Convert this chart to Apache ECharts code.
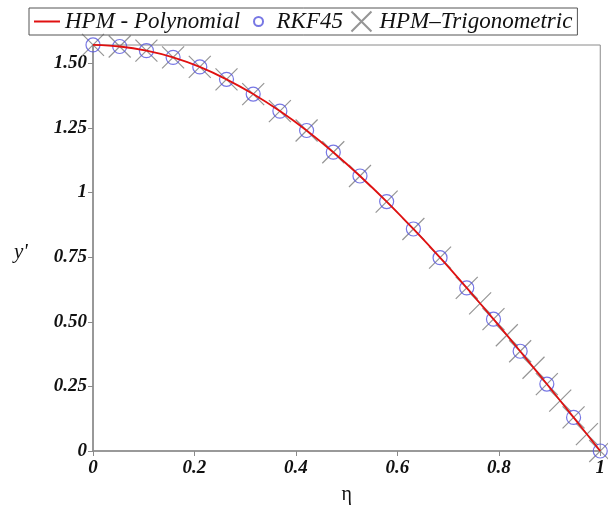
<!DOCTYPE html>
<html>
<head>
<meta charset="utf-8">
<script src="https://cdn.jsdelivr.net/npm/echarts@6/dist/echarts.min.js"></script>
<style>
  html, body { margin: 0; padding: 0; background: #fff; }
  #chart { width: 608px; height: 510px; }
</style>
</head>
<body>
<div id="chart"></div>
<script>
  // eta grid of the RKF45 points (20 points, step 1/19)
  var etaRkf = [0, 0.0526, 0.1053, 0.1579, 0.2105, 0.2632, 0.3158, 0.3684, 0.4211, 0.4737,
                0.5263, 0.5789, 0.6316, 0.6842, 0.7368, 0.7895, 0.8421, 0.8947, 0.9474, 1];
  var yRkf = [1.571, 1.565, 1.549, 1.523, 1.486, 1.438, 1.381, 1.315, 1.240, 1.156,
              1.064, 0.965, 0.859, 0.748, 0.631, 0.510, 0.386, 0.259, 0.130, 0];
  // HPM polynomial curve
  var yPoly = [1.571, 1.565, 1.549, 1.523, 1.486, 1.438, 1.381, 1.315, 1.240, 1.156,
               1.064, 0.965, 0.859, 0.748, 0.631, 0.510, 0.386, 0.259, 0.130, 0];
  // HPM trigonometric crosses (same points plus extra ones near the end)
  var etaTrig = [0, 0.0526, 0.1053, 0.1579, 0.2105, 0.2632, 0.3158, 0.3684, 0.4211, 0.4737,
                 0.5263, 0.5789, 0.6316, 0.6842, 0.7368, 0.7632, 0.7895, 0.8158, 0.8421, 0.8684,
                 0.8947, 0.9211, 0.9474, 0.9737, 1];
  var yTrig = [1.571, 1.565, 1.549, 1.523, 1.486, 1.438, 1.381, 1.315, 1.240, 1.156,
               1.064, 0.965, 0.859, 0.748, 0.631, 0.571, 0.510, 0.448, 0.386, 0.322,
               0.259, 0.195, 0.130, 0.065, 0];
  var yTickText = { '0': '0', '0.25': '0.25', '0.5': '0.50', '0.75': '0.75', '1': '1', '1.25': '1.25', '1.5': '1.50' };

  function pairs(xs, ys) {
    return xs.map(function (x, i) { return [x, ys[i]]; });
  }

  var font = 'Liberation Serif';
  var chart = echarts.init(document.getElementById('chart'));
  chart.setOption({
    animation: false,
    backgroundColor: '#fff',
    legend: {
      top: 8,
      left: 29,
      padding: [1, 5, 1, 4],
      borderColor: '#555',
      borderWidth: 1,
      itemGap: 6,
      itemWidth: 26,
      itemHeight: 20,
      textStyle: { fontFamily: font, fontStyle: 'italic', fontSize: 23, color: '#111', padding: [2, 0, 0, 0] },
      data: [
        { name: 'HPM - Polynomial', itemStyle: { opacity: 0 } },
        { name: 'RKF45', icon: 'path://M0,0M20,20M14.5,10A4.5,4.5,0,1,1,5.5,10A4.5,4.5,0,1,1,14.5,10Z' },
        { name: 'HPM\u2013Trigonometric' }
      ]
    },
    grid: {
      left: 93, right: 6, top: 45, bottom: 58,
      show: true, borderColor: '#8a8a8a', borderWidth: 1
    },
    xAxis: {
      type: 'value', min: 0, max: 1, interval: 0.2,
      name: '\u03b7', nameLocation: 'middle', nameGap: 34,
      nameTextStyle: { fontFamily: font, fontSize: 20, color: '#111' },
      axisLine: { lineStyle: { color: '#8a8a8a', width: 1.5 } },
      axisTick: { show: true, length: 5, lineStyle: { color: '#8a8a8a' } },
      splitLine: { show: false },
      axisLabel: {
        fontFamily: font, fontStyle: 'italic', fontWeight: 'bold', fontSize: 19, color: '#111', margin: 8
      }
    },
    yAxis: {
      type: 'value', min: 0, max: 1.5708, interval: 0.25,
      axisLine: { show: true, lineStyle: { color: '#8a8a8a', width: 1.5 } },
      axisTick: { show: true, length: 5, lineStyle: { color: '#8a8a8a' } },
      splitLine: { show: false },
      axisLabel: {
        showMaxLabel: false,
        fontFamily: font, fontStyle: 'italic', fontWeight: 'bold', fontSize: 19, color: '#111', margin: 6,
        formatter: function (v) { return yTickText[String(+v.toFixed(2))] || ''; }
      }
    },
    graphic: [{
      type: 'text', left: 14, top: 242,
      style: { text: "y'", fontFamily: font, fontStyle: 'italic', fontSize: 21, fill: '#111' }
    }],
    series: [
      {
        name: 'HPM\u2013Trigonometric',
        type: 'scatter',
        symbol: 'path://M0,0L10,10M10,0L0,10',
        symbolSize: 22,
        itemStyle: { color: 'none', borderColor: '#7a7a7a', borderWidth: 1.2 },
        data: pairs(etaTrig, yTrig),
        z: 2
      },
      {
        name: 'RKF45',
        type: 'scatter',
        symbol: 'circle',
        symbolSize: 14,
        itemStyle: { color: 'none', borderColor: '#5555dd', borderWidth: 1.2 },
        data: pairs(etaRkf, yRkf),
        z: 3
      },
      {
        name: 'HPM - Polynomial',
        type: 'line',
        symbol: 'none',
        smooth: 0.3,
        lineStyle: { color: '#e01010', width: 1.8 },
        itemStyle: { color: '#e01010' },
        data: pairs(etaRkf, yPoly),
        z: 4
      }
    ]
  });
</script>
</body>
</html>
